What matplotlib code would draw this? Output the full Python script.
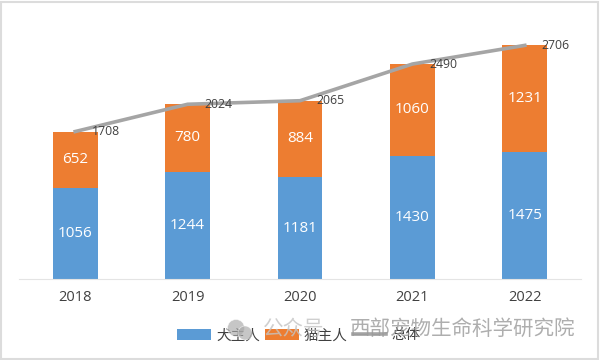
import matplotlib
matplotlib.use('Agg')
import matplotlib.pyplot as plt
from matplotlib.patches import Rectangle, Circle

plt.rcParams['font.family'] = ['Open Sans', 'Noto Sans CJK SC', 'DejaVu Sans']

# values
years = ['2018', '2019', '2020', '2021', '2022']
dog = [1056, 1244, 1181, 1430, 1475]
cat = [652, 780, 884, 1060, 1231]
total = [1708, 2024, 2065, 2490, 2706]

W, H = 600, 360
fig = plt.figure(figsize=(W / 100, H / 100), dpi=100)
# axes box in pixels: x 19..581, y 20..279
ax = fig.add_axes([19 / W, 1 - 279 / H, 562 / W, 259 / H])

x = range(len(years))
b1 = ax.bar(x, dog, width=0.4, color='#5B9BD5', label='犬主人')
b2 = ax.bar(x, cat, width=0.4, bottom=dog, color='#ED7D31', label='猫主人')
l1, = ax.plot(x, total, color='#A5A5A5', lw=2.6, label='总体')

for i in x:
    ax.text(i, dog[i] / 2, str(dog[i]), color='white', fontsize=11, ha='center', va='center')
    ax.text(i, dog[i] + cat[i] / 2, str(cat[i]), color='white', fontsize=11, ha='center', va='center')
    ax.annotate(str(total[i]), (i, total[i]), xytext=(12, 0), textcoords='offset points',
                color='#404040', fontsize=8.8, ha='left', va='center')

ax.set_xlim(-0.5, 4.5)
ax.set_ylim(0, 3000)
ax.set_xticks(list(x))
ax.set_xticklabels(years, fontsize=10.5, color='#404040')
ax.set_yticks([])
ax.tick_params(axis='x', length=0, pad=8)
for s in ['top', 'left', 'right']:
    ax.spines[s].set_visible(False)
ax.spines['bottom'].set_color('#E4E4E4')

ax.legend(handles=[b1, b2, l1], loc='center', bbox_to_anchor=(299 / W, 1 - 336 / H),
          bbox_transform=fig.transFigure, ncol=3, frameon=False, fontsize=10.5,
          labelcolor='#404040', handlelength=2.3, handletextpad=0.35, columnspacing=0.35)

# outer frame of the screenshot
fig.add_artist(Rectangle((1 / W, 1 / H), 597 / W, 357 / H, transform=fig.transFigure,
                         fill=False, ec='#DCDCDC', lw=1.5))

# watermark over the legend
for cx, cy, r in [(236, 328, 8.5), (245, 333, 7)]:
    fig.add_artist(Circle((cx, H - cy), r, transform=None, fc='#A8A8A8', ec='white', lw=0.5, alpha=0.65))
fig.text(263 / W, 1 - 329 / H, '公众号', fontsize=14.8, color='#C4C4C4', alpha=0.8, va='center', ha='left')
fig.text(350 / W, 1 - 329 / H, '西部宠物生命科学研究院', fontsize=14.8, color='#9A9A9A', alpha=0.8, va='center', ha='left')

fig.savefig('out.png', dpi=100)
